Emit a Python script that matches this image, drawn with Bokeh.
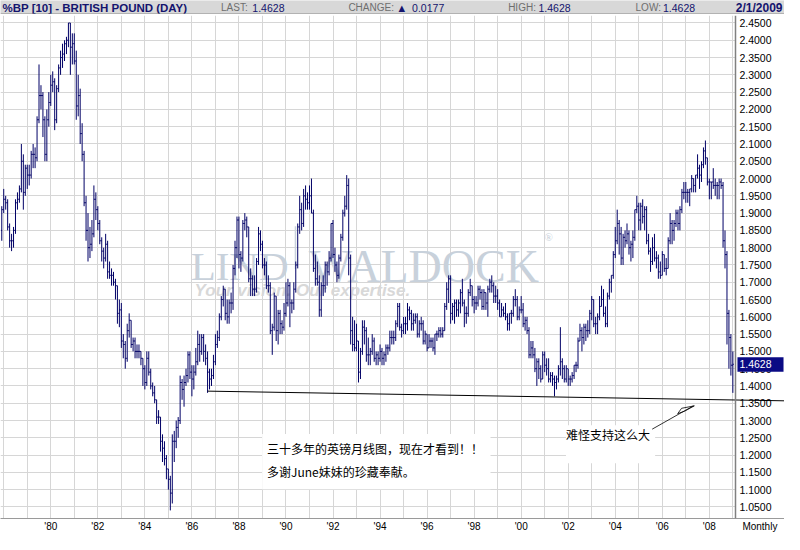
from bokeh.plotting import figure
from bokeh.models import (Range1d, FixedTicker, Label, LabelSet, ColumnDataSource,
                          Span, BoxAnnotation)
from bokeh.layouts import column
from bokeh.core.properties import value
from bokeh.embed import file_html
from bokeh.resources import INLINE

# ---------------- data (monthly OHLC, Dec 1977 .. Jan 2009) ----------------
start_year, start_month = 1977, 12

opens = [
    1.85,
    1.91, 1.94, 1.93, 1.86, 1.82, 1.82, 1.85, 1.93, 1.94, 1.97, 2.05, 1.96,  # 1978
    2.03, 2.01, 2.01, 2.07, 2.07, 2.06, 2.17, 2.24, 2.24, 2.17, 2.07, 2.17,  # 1979
    2.22, 2.27, 2.28, 2.17, 2.26, 2.32, 2.35, 2.36, 2.39, 2.40, 2.45, 2.38,  # 1980
    2.39, 2.34, 2.21, 2.24, 2.13, 2.07, 1.93, 1.85, 1.80, 1.81, 1.84, 1.94,  # 1981
    1.91, 1.87, 1.82, 1.79, 1.77, 1.81, 1.73, 1.72, 1.72, 1.70, 1.69, 1.61,  # 1982
    1.62, 1.53, 1.52, 1.48, 1.56, 1.59, 1.52, 1.53, 1.50, 1.50, 1.50, 1.48,  # 1983
    1.45, 1.41, 1.48, 1.44, 1.40, 1.38, 1.36, 1.31, 1.31, 1.24, 1.22, 1.19,  # 1984
    1.16, 1.13, 1.09, 1.24, 1.24, 1.28, 1.30, 1.41, 1.39, 1.41, 1.43, 1.49,  # 1985
    1.44, 1.42, 1.44, 1.47, 1.52, 1.50, 1.54, 1.50, 1.48, 1.44, 1.42, 1.43,  # 1986
    1.47, 1.52, 1.54, 1.60, 1.65, 1.68, 1.61, 1.60, 1.64, 1.64, 1.74, 1.80,  # 1987
    1.88, 1.78, 1.77, 1.87, 1.88, 1.86, 1.71, 1.71, 1.68, 1.68, 1.76, 1.84,  # 1988
    1.81, 1.75, 1.75, 1.69, 1.69, 1.56, 1.57, 1.66, 1.56, 1.61, 1.58, 1.57,  # 1989
    1.61, 1.64, 1.69, 1.64, 1.64, 1.68, 1.75, 1.86, 1.91, 1.87, 1.95, 1.94,  # 1990
    1.93, 1.95, 1.90, 1.74, 1.71, 1.70, 1.62, 1.69, 1.69, 1.75, 1.73, 1.77,  # 1991
    1.87, 1.78, 1.75, 1.72, 1.77, 1.83, 1.90, 1.92, 1.98, 1.77, 1.56, 1.52,  # 1992
    1.51, 1.53, 1.44, 1.50, 1.57, 1.56, 1.49, 1.49, 1.50, 1.53, 1.48, 1.49,  # 1993
    1.48, 1.50, 1.48, 1.49, 1.51, 1.51, 1.54, 1.54, 1.54, 1.58, 1.63, 1.57,  # 1994
    1.56, 1.58, 1.58, 1.62, 1.61, 1.58, 1.59, 1.60, 1.55, 1.58, 1.58, 1.53,  # 1995
    1.55, 1.51, 1.53, 1.53, 1.51, 1.55, 1.55, 1.56, 1.55, 1.56, 1.63, 1.68,  # 1996
    1.71, 1.61, 1.63, 1.64, 1.62, 1.64, 1.67, 1.64, 1.61, 1.61, 1.67, 1.69,  # 1997
    1.65, 1.64, 1.64, 1.68, 1.67, 1.63, 1.67, 1.64, 1.68, 1.70, 1.69, 1.66,  # 1998
    1.66, 1.64, 1.60, 1.62, 1.61, 1.60, 1.58, 1.61, 1.61, 1.65, 1.65, 1.60,  # 1999
    1.62, 1.62, 1.58, 1.59, 1.56, 1.49, 1.51, 1.49, 1.45, 1.47, 1.45, 1.42,  # 2000
    1.49, 1.46, 1.45, 1.42, 1.43, 1.42, 1.41, 1.42, 1.45, 1.47, 1.45, 1.42,  # 2001
    1.45, 1.42, 1.42, 1.43, 1.46, 1.46, 1.53, 1.56, 1.54, 1.57, 1.56, 1.56,  # 2002
    1.61, 1.65, 1.58, 1.58, 1.60, 1.63, 1.65, 1.61, 1.58, 1.66, 1.70, 1.72,  # 2003
    1.78, 1.82, 1.87, 1.84, 1.77, 1.83, 1.82, 1.84, 1.80, 1.81, 1.83, 1.91,  # 2004
    1.92, 1.88, 1.92, 1.89, 1.91, 1.82, 1.79, 1.76, 1.80, 1.77, 1.77, 1.73,  # 2005
    1.72, 1.78, 1.74, 1.74, 1.82, 1.87, 1.85, 1.87, 1.90, 1.87, 1.91, 1.96,  # 2006
    1.96, 1.96, 1.96, 1.97, 2.00, 1.98, 2.01, 2.03, 2.01, 2.04, 2.08, 2.06,  # 2007
    1.99, 1.99, 1.99, 1.98, 1.98, 1.98, 1.99, 1.98, 1.82, 1.78, 1.61, 1.54,  # 2008
    1.46,                                                                    # 2009
]

highs = [
    1.92,
    1.97, 1.95, 1.94, 1.87, 1.84, 1.86, 1.94, 1.96, 1.98, 2.10, 2.07, 2.04,  # 1978
    2.04, 2.04, 2.08, 2.10, 2.09, 2.18, 2.33, 2.27, 2.25, 2.18, 2.20, 2.25,  # 1979
    2.30, 2.31, 2.29, 2.27, 2.33, 2.37, 2.39, 2.40, 2.41, 2.45, 2.45, 2.42,  # 1980
    2.42, 2.37, 2.30, 2.26, 2.16, 2.08, 1.95, 1.90, 1.86, 1.88, 1.98, 1.96,  # 1981
    1.92, 1.88, 1.83, 1.80, 1.84, 1.82, 1.76, 1.74, 1.73, 1.71, 1.69, 1.65,  # 1982
    1.64, 1.55, 1.53, 1.58, 1.61, 1.59, 1.54, 1.54, 1.52, 1.52, 1.50, 1.48,  # 1983
    1.46, 1.50, 1.50, 1.45, 1.41, 1.40, 1.36, 1.33, 1.31, 1.26, 1.24, 1.20,  # 1984
    1.16, 1.14, 1.26, 1.27, 1.30, 1.31, 1.43, 1.42, 1.43, 1.45, 1.50, 1.50,  # 1985
    1.46, 1.46, 1.51, 1.56, 1.55, 1.55, 1.55, 1.52, 1.50, 1.45, 1.45, 1.49,  # 1986
    1.55, 1.56, 1.61, 1.66, 1.69, 1.68, 1.65, 1.65, 1.67, 1.75, 1.82, 1.89,  # 1987
    1.89, 1.79, 1.88, 1.90, 1.89, 1.86, 1.74, 1.72, 1.72, 1.77, 1.86, 1.85,  # 1988
    1.82, 1.77, 1.76, 1.72, 1.70, 1.58, 1.67, 1.66, 1.62, 1.62, 1.59, 1.64,  # 1989
    1.70, 1.71, 1.70, 1.65, 1.70, 1.76, 1.87, 1.95, 1.93, 1.97, 1.98, 1.96,  # 1990
    1.98, 2.00, 1.91, 1.78, 1.76, 1.72, 1.70, 1.72, 1.76, 1.76, 1.79, 1.87,  # 1991
    1.88, 1.80, 1.76, 1.78, 1.84, 1.91, 1.95, 2.01, 2.00, 1.78, 1.60, 1.59,  # 1992
    1.58, 1.53, 1.51, 1.59, 1.59, 1.57, 1.54, 1.51, 1.55, 1.54, 1.50, 1.50,  # 1993
    1.52, 1.51, 1.50, 1.52, 1.52, 1.56, 1.56, 1.56, 1.59, 1.64, 1.64, 1.58,  # 1994
    1.60, 1.60, 1.64, 1.63, 1.62, 1.61, 1.61, 1.61, 1.59, 1.60, 1.59, 1.56,  # 1995
    1.55, 1.55, 1.54, 1.54, 1.55, 1.56, 1.57, 1.57, 1.57, 1.64, 1.70, 1.72,  # 1996
    1.72, 1.64, 1.65, 1.65, 1.65, 1.68, 1.71, 1.65, 1.63, 1.68, 1.71, 1.69,  # 1997
    1.66, 1.66, 1.69, 1.69, 1.68, 1.68, 1.67, 1.69, 1.71, 1.72, 1.70, 1.69,  # 1998
    1.68, 1.65, 1.64, 1.63, 1.64, 1.61, 1.61, 1.62, 1.66, 1.68, 1.66, 1.63,  # 1999
    1.66, 1.64, 1.60, 1.60, 1.57, 1.53, 1.53, 1.51, 1.48, 1.48, 1.46, 1.50,  # 2000
    1.50, 1.48, 1.48, 1.44, 1.44, 1.43, 1.43, 1.46, 1.57, 1.48, 1.46, 1.46,  # 2001
    1.45, 1.43, 1.44, 1.46, 1.47, 1.54, 1.58, 1.57, 1.58, 1.58, 1.59, 1.62,  # 2002
    1.66, 1.65, 1.60, 1.61, 1.66, 1.69, 1.68, 1.63, 1.67, 1.71, 1.72, 1.79,  # 2003
    1.86, 1.91, 1.88, 1.86, 1.84, 1.85, 1.87, 1.85, 1.82, 1.85, 1.91, 1.95,  # 2004
    1.93, 1.93, 1.94, 1.92, 1.92, 1.84, 1.80, 1.83, 1.84, 1.79, 1.78, 1.76,  # 2005
    1.79, 1.78, 1.77, 1.83, 1.90, 1.88, 1.88, 1.91, 1.91, 1.92, 1.97, 1.99,  # 2006
    1.99, 1.97, 1.97, 2.01, 2.00, 2.01, 2.07, 2.04, 2.05, 2.09, 2.11, 2.06,  # 2007
    2.00, 1.99, 2.03, 2.00, 1.99, 2.00, 2.00, 1.99, 1.85, 1.79, 1.62, 1.55,  # 2008
    1.50,                                                                    # 2009
]

lows = [
    1.82,
    1.90, 1.91, 1.85, 1.80, 1.79, 1.80, 1.84, 1.91, 1.93, 1.96, 1.91, 1.95,  # 1978
    1.97, 1.98, 2.00, 2.03, 2.03, 2.05, 2.16, 2.20, 2.12, 2.05, 2.05, 2.15,  # 1979
    2.21, 2.25, 2.14, 2.16, 2.25, 2.30, 2.32, 2.34, 2.36, 2.38, 2.30, 2.33,  # 1980
    2.33, 2.17, 2.18, 2.10, 2.05, 1.92, 1.82, 1.76, 1.77, 1.79, 1.83, 1.88,  # 1981
    1.85, 1.81, 1.76, 1.74, 1.76, 1.71, 1.71, 1.69, 1.69, 1.65, 1.58, 1.57,  # 1982
    1.51, 1.48, 1.45, 1.47, 1.54, 1.51, 1.50, 1.48, 1.48, 1.48, 1.46, 1.40,  # 1983
    1.39, 1.40, 1.43, 1.39, 1.37, 1.35, 1.29, 1.29, 1.21, 1.18, 1.17, 1.13,  # 1984
    1.10, 1.04, 1.06, 1.18, 1.22, 1.25, 1.29, 1.36, 1.34, 1.40, 1.41, 1.42,  # 1985
    1.37, 1.39, 1.43, 1.46, 1.47, 1.49, 1.47, 1.46, 1.38, 1.39, 1.40, 1.42,  # 1986
    1.46, 1.51, 1.53, 1.59, 1.63, 1.59, 1.58, 1.58, 1.61, 1.62, 1.72, 1.77,  # 1987
    1.74, 1.73, 1.76, 1.85, 1.83, 1.70, 1.66, 1.66, 1.66, 1.67, 1.75, 1.79,  # 1988
    1.74, 1.72, 1.68, 1.67, 1.55, 1.49, 1.56, 1.53, 1.52, 1.55, 1.55, 1.56,  # 1989
    1.60, 1.63, 1.57, 1.61, 1.62, 1.67, 1.74, 1.84, 1.85, 1.86, 1.91, 1.91,  # 1990
    1.91, 1.90, 1.73, 1.69, 1.69, 1.60, 1.60, 1.66, 1.67, 1.69, 1.72, 1.76,  # 1991
    1.77, 1.73, 1.70, 1.71, 1.76, 1.82, 1.89, 1.91, 1.72, 1.52, 1.50, 1.50,  # 1992
    1.50, 1.41, 1.42, 1.49, 1.52, 1.47, 1.46, 1.46, 1.49, 1.47, 1.46, 1.46,  # 1993
    1.47, 1.46, 1.46, 1.47, 1.49, 1.50, 1.52, 1.52, 1.53, 1.57, 1.56, 1.54,  # 1994
    1.55, 1.55, 1.56, 1.59, 1.56, 1.56, 1.58, 1.54, 1.54, 1.56, 1.52, 1.52,  # 1995
    1.50, 1.51, 1.51, 1.50, 1.49, 1.53, 1.54, 1.54, 1.54, 1.56, 1.62, 1.64,  # 1996
    1.58, 1.59, 1.58, 1.60, 1.60, 1.61, 1.63, 1.57, 1.58, 1.60, 1.66, 1.63,  # 1997
    1.61, 1.62, 1.63, 1.65, 1.62, 1.62, 1.62, 1.60, 1.67, 1.67, 1.64, 1.64,  # 1998
    1.62, 1.60, 1.60, 1.60, 1.59, 1.56, 1.56, 1.58, 1.60, 1.63, 1.59, 1.59,  # 1999
    1.61, 1.57, 1.56, 1.55, 1.48, 1.48, 1.48, 1.44, 1.40, 1.42, 1.41, 1.42,  # 2000
    1.44, 1.43, 1.41, 1.41, 1.40, 1.37, 1.39, 1.41, 1.43, 1.42, 1.41, 1.41,  # 2001
    1.40, 1.40, 1.41, 1.42, 1.44, 1.45, 1.53, 1.50, 1.52, 1.53, 1.54, 1.55,  # 2002
    1.59, 1.57, 1.55, 1.55, 1.59, 1.63, 1.60, 1.57, 1.57, 1.65, 1.67, 1.71,  # 2003
    1.77, 1.81, 1.78, 1.75, 1.75, 1.80, 1.81, 1.78, 1.76, 1.77, 1.82, 1.90,  # 2004
    1.85, 1.85, 1.87, 1.85, 1.81, 1.78, 1.73, 1.75, 1.76, 1.74, 1.71, 1.71,  # 2005
    1.72, 1.73, 1.72, 1.74, 1.81, 1.81, 1.82, 1.86, 1.85, 1.85, 1.90, 1.94,  # 2006
    1.93, 1.93, 1.92, 1.96, 1.96, 1.96, 2.00, 1.97, 1.99, 2.03, 2.04, 1.98,  # 2007
    1.94, 1.94, 1.97, 1.95, 1.94, 1.94, 1.97, 1.80, 1.74, 1.52, 1.45, 1.43,  # 2008
    1.38,                                                                    # 2009
]

closes = [
    1.91,
    1.94, 1.93, 1.86, 1.82, 1.82, 1.85, 1.93, 1.94, 1.97, 2.05, 1.96, 2.03,  # 1978
    2.01, 2.01, 2.07, 2.07, 2.06, 2.17, 2.24, 2.24, 2.17, 2.07, 2.17, 2.22,  # 1979
    2.27, 2.28, 2.17, 2.26, 2.32, 2.35, 2.36, 2.39, 2.40, 2.45, 2.38, 2.39,  # 1980
    2.34, 2.21, 2.24, 2.13, 2.07, 1.93, 1.85, 1.80, 1.81, 1.84, 1.94, 1.91,  # 1981
    1.87, 1.82, 1.79, 1.77, 1.81, 1.73, 1.72, 1.72, 1.70, 1.69, 1.61, 1.62,  # 1982
    1.53, 1.52, 1.48, 1.56, 1.59, 1.52, 1.53, 1.50, 1.50, 1.50, 1.48, 1.45,  # 1983
    1.41, 1.48, 1.44, 1.40, 1.38, 1.36, 1.31, 1.31, 1.24, 1.22, 1.19, 1.16,  # 1984
    1.13, 1.09, 1.24, 1.24, 1.28, 1.30, 1.41, 1.39, 1.41, 1.43, 1.49, 1.44,  # 1985
    1.42, 1.44, 1.47, 1.52, 1.50, 1.54, 1.50, 1.48, 1.44, 1.42, 1.43, 1.47,  # 1986
    1.52, 1.54, 1.60, 1.65, 1.68, 1.61, 1.60, 1.64, 1.64, 1.74, 1.80, 1.88,  # 1987
    1.78, 1.77, 1.87, 1.88, 1.86, 1.71, 1.71, 1.68, 1.68, 1.76, 1.84, 1.81,  # 1988
    1.75, 1.75, 1.69, 1.69, 1.56, 1.57, 1.66, 1.56, 1.61, 1.58, 1.57, 1.61,  # 1989
    1.64, 1.69, 1.64, 1.64, 1.68, 1.75, 1.86, 1.91, 1.87, 1.95, 1.94, 1.93,  # 1990
    1.95, 1.90, 1.74, 1.71, 1.70, 1.62, 1.69, 1.69, 1.75, 1.73, 1.77, 1.87,  # 1991
    1.78, 1.75, 1.72, 1.77, 1.83, 1.90, 1.92, 1.98, 1.77, 1.56, 1.52, 1.51,  # 1992
    1.53, 1.44, 1.50, 1.57, 1.56, 1.49, 1.49, 1.50, 1.53, 1.48, 1.49, 1.48,  # 1993
    1.50, 1.48, 1.49, 1.51, 1.51, 1.54, 1.54, 1.54, 1.58, 1.63, 1.57, 1.56,  # 1994
    1.58, 1.58, 1.62, 1.61, 1.58, 1.59, 1.60, 1.55, 1.58, 1.58, 1.53, 1.55,  # 1995
    1.51, 1.53, 1.53, 1.51, 1.55, 1.55, 1.56, 1.55, 1.56, 1.63, 1.68, 1.71,  # 1996
    1.61, 1.63, 1.64, 1.62, 1.64, 1.67, 1.64, 1.61, 1.61, 1.67, 1.69, 1.65,  # 1997
    1.64, 1.64, 1.68, 1.67, 1.63, 1.67, 1.64, 1.68, 1.70, 1.69, 1.66, 1.66,  # 1998
    1.64, 1.60, 1.62, 1.61, 1.60, 1.58, 1.61, 1.61, 1.65, 1.65, 1.60, 1.62,  # 1999
    1.62, 1.58, 1.59, 1.56, 1.49, 1.51, 1.49, 1.45, 1.47, 1.45, 1.42, 1.49,  # 2000
    1.46, 1.45, 1.42, 1.43, 1.42, 1.41, 1.42, 1.45, 1.47, 1.45, 1.42, 1.45,  # 2001
    1.42, 1.42, 1.43, 1.46, 1.46, 1.53, 1.56, 1.54, 1.57, 1.56, 1.56, 1.61,  # 2002
    1.65, 1.58, 1.58, 1.60, 1.63, 1.65, 1.61, 1.58, 1.66, 1.70, 1.72, 1.78,  # 2003
    1.82, 1.87, 1.84, 1.77, 1.83, 1.82, 1.84, 1.80, 1.81, 1.83, 1.91, 1.92,  # 2004
    1.88, 1.92, 1.89, 1.91, 1.82, 1.79, 1.76, 1.80, 1.77, 1.77, 1.73, 1.72,  # 2005
    1.78, 1.74, 1.74, 1.82, 1.87, 1.85, 1.87, 1.90, 1.87, 1.91, 1.96, 1.96,  # 2006
    1.96, 1.96, 1.97, 2.00, 1.98, 2.01, 2.03, 2.01, 2.04, 2.08, 2.06, 1.99,  # 2007
    1.99, 1.99, 1.98, 1.98, 1.98, 1.99, 1.98, 1.82, 1.78, 1.61, 1.54, 1.46,  # 2008
    1.4628,                                                                  # 2009
]

y_tick_labels = ["1.0500", "1.1000", "1.1500", "1.2000", "1.2500", "1.3000", "1.3500",
                 "1.4000", "1.4500", "1.5000", "1.5500", "1.6000", "1.6500", "1.7000",
                 "1.7500", "1.8000", "1.8500", "1.9000", "1.9500", "2.0000", "2.0500",
                 "2.1000", "2.1500", "2.2000", "2.2500", "2.3000", "2.3500", "2.4000", "2.4500"]
x_tick_years = [1980, 1982, 1984, 1986, 1988, 1990, 1992, 1994, 1996, 1998, 2000, 2002, 2004, 2006, 2008]
x_tick_labels = ["'80", "'82", "'84", "'86", "'88", "'90", "'92", "'94", "'96", "'98",
                 "'00", "'02", "'04", "'06", "'08"]
grid_years = list(range(1978, 2010))

last_price = "1.4628"
header_title = "%BP [10] - BRITISH POUND (DAY)"
header_date = "2/1/2009"
change_value = "0.0177"

# support line drawn on the chart (start Sep 1986 low, extended to the right edge)
support_x = [1986.667, 2011.2]
support_y = [1.385, 1.357]

# ---------------- geometry helpers (reference pixel -> data) ----------------
def rx(px):
    return 1978 + (px - 3.3) / 24.0

def ry(py):
    return 2.45 - (py - 22.7) / 356.0

NAVY = "#000066"
TEXT_NAVY = "#14146e"
GRAY_TXT = "#6e6e6e"
GRID = "#d6d6d6"
W = 784

# ---------------- header strip ----------------
hdr = figure(width=W, height=14, x_range=Range1d(0, 800), y_range=Range1d(0, 14),
             output_backend="svg", toolbar_location=None,
             x_axis_location=None, y_axis_location=None, min_border=0,
             background_fill_color="#d8d8d8", border_fill_color="#d8d8d8",
             outline_line_color=None)
hdr.grid.visible = False
hdr.add_layout(Span(location=0.5, dimension="width", line_color="#8c8c8c", line_width=1))

F = value("Liberation Sans")
hdr.text(x=[2], y=[7], text=[header_title], text_font=F, text_font_style="bold",
         text_font_size="11.5px", text_color=TEXT_NAVY, text_baseline="middle")
hdr.text(x=[225, 355, 518, 648], y=[7] * 4, text=["LAST:", "CHANGE:", "HIGH:", "LOW:"],
         text_font=F, text_font_size="10px", text_color=GRAY_TXT, text_baseline="middle")
hdr.text(x=[257, 420, 549, 676], y=[7] * 4, text=[last_price, change_value, last_price, last_price],
         text_font=F, text_font_size="10.5px", text_color=TEXT_NAVY, text_baseline="middle")
hdr.text(x=[406], y=[7], text=["\u25b2"], text_font=value("DejaVu Sans"), text_font_size="8.5px",
         text_color=TEXT_NAVY, text_baseline="middle")
hdr.text(x=[798], y=[7], text=[header_date], text_font=F, text_font_style="bold",
         text_font_size="12px", text_color=TEXT_NAVY, text_baseline="middle", text_align="right")

# ---------------- main chart ----------------
p = figure(width=W, height=520, x_range=Range1d(rx(0), rx(800)), y_range=Range1d(ry(533), ry(15)),
           output_backend="svg", toolbar_location=None, y_axis_location=None,
           min_border_left=0, min_border_right=0, min_border_top=1, min_border_bottom=16,
           background_fill_color="white", border_fill_color="white", outline_line_color=None)

y_ticks = [float(s) for s in y_tick_labels]
p.xgrid.ticker = FixedTicker(ticks=grid_years)
p.ygrid.ticker = FixedTicker(ticks=y_ticks)
p.xgrid.grid_line_color = GRID
p.ygrid.grid_line_color = GRID

# blank the price-scale column (above the grid, below the glyphs)
p.add_layout(BoxAnnotation(left=rx(750), fill_color="white", fill_alpha=1.0,
                           line_color=None, level="underlay"))
# white backgrounds behind the Chinese notes
p.add_layout(BoxAnnotation(left=rx(267), right=rx(500), top=ry(446), bottom=ry(503),
                           fill_color="white", fill_alpha=1.0, line_color=None, level="underlay"))
p.add_layout(BoxAnnotation(left=rx(577), right=rx(668), top=ry(437), bottom=ry(476),
                           fill_color="white", fill_alpha=1.0, line_color=None, level="underlay"))

# bottom axis
ax = p.xaxis[0]
monthly_tick = 2010.15
ax.ticker = FixedTicker(ticks=x_tick_years + [monthly_tick])
overrides = {yr: lab for yr, lab in zip(x_tick_years, x_tick_labels)}
overrides[monthly_tick] = "Monthly"
ax.major_label_overrides = overrides
ax.major_label_text_font = "Liberation Sans"
ax.major_label_text_font_size = "10px"
ax.major_label_text_color = "#000000"
ax.major_tick_line_color = None
ax.minor_tick_line_color = None
ax.major_tick_out = 0
ax.major_tick_in = 0
ax.axis_line_color = "#9a9a9a"
ax.major_label_standoff = 2

# watermark (under the bars)
WM = "#c8d1db"
p.text(x=[rx(244)], y=[ry(273)], text=["LIND"], text_font=value("Liberation Serif"),
       text_font_size="41px", text_color=WM, text_align="center", text_baseline="alphabetic")
p.text(x=[rx(432)], y=[ry(273)], text=["WALDOCK"], text_font=value("Liberation Serif"),
       text_font_size="46px", text_color=WM, text_align="center", text_baseline="alphabetic")
p.text(x=[rx(555)], y=[ry(243)], text=["\u00ae"], text_font=value("Liberation Serif"),
       text_font_size="11px", text_color=WM, text_baseline="middle")
p.line([rx(301), rx(301)], [ry(232), ry(276)], line_color=WM, line_width=1.5)
p.text(x=[rx(198)], y=[ry(298)], text=["Your vision. Our expertise."], text_font=F,
       text_font_style="bold italic", text_font_size="17px", text_color="#d8d8d8",
       text_baseline="alphabetic")

# OHLC bars
n = len(closes)
xs = [start_year + (start_month - 1 + i) / 12.0 for i in range(n)]
tick = 0.5 / 12.0
src = ColumnDataSource(dict(x=xs, xl=[x - tick for x in xs], xr=[x + tick for x in xs],
                            o=opens, h=highs, l=lows, c=closes))
p.segment(x0="x", y0="l", x1="x", y1="h", source=src, line_color=NAVY, line_width=1.0)
p.segment(x0="xl", y0="o", x1="x", y1="o", source=src, line_color=NAVY, line_width=1.0)
p.segment(x0="x", y0="c", x1="xr", y1="c", source=src, line_color=NAVY, line_width=1.0)

# support line and arrow
p.line(support_x, support_y, line_color="black", line_width=1)
p.line([rx(665), rx(707)], [ry(441), ry(417)], line_color="black", line_width=0.8)
p.patch([rx(691), rx(695), rx(708), rx(698), rx(691)],
        [ry(425), ry(419.5), ry(417), ry(422.5), ry(425)],
        fill_color=None, line_color="black", line_width=0.8)

# price scale on the right
p.add_layout(Span(location=rx(750), dimension="height", line_color="#808080", line_width=1.5))
lab_src = ColumnDataSource(dict(x=[rx(754)] * len(y_ticks), y=y_ticks, t=y_tick_labels))
p.add_layout(LabelSet(x="x", y="y", text="t", source=lab_src, text_font=F,
                      text_font_size="10.5px", text_color="#000000", text_baseline="middle"))
p.add_layout(BoxAnnotation(left=rx(752), right=rx(799), top=ry(367), bottom=ry(382),
                           fill_color="#0a0a84", fill_alpha=1.0, line_color=None))
p.add_layout(Label(x=rx(754), y=float(last_price), text=last_price, text_font="Liberation Sans",
                   text_font_size="10.5px", text_color="white", text_baseline="middle"))

# notes
CJK = "Noto Sans CJK SC"
p.add_layout(Label(x=rx(272), y=ry(461), text="三十多年的英镑月线图，现在才看到！！",
                   text_font=CJK, text_font_size="12px", text_color="black", text_baseline="middle"))
p.add_layout(Label(x=rx(272), y=ry(485), text="多谢June妹妹的珍藏奉献。",
                   text_font=CJK, text_font_size="12px", text_color="black", text_baseline="middle"))
p.add_layout(Label(x=rx(577), y=ry(447), text="难怪支持这么大",
                   text_font=CJK, text_font_size="12px", text_color="black", text_baseline="middle"))

layout = column(hdr, p, spacing=0)
open("out.html", "w").write(file_html(layout, INLINE))
